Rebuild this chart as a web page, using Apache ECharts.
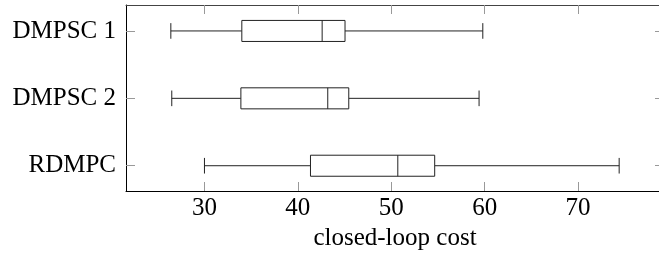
<!DOCTYPE html>
<html>
<head>
<meta charset="utf-8">
<script src="https://cdn.jsdelivr.net/npm/echarts@6/dist/echarts.min.js"></script>
<style>
  html, body { margin: 0; padding: 0; background: #fff; overflow: hidden; }
  #chart { width: 672px; height: 257px; }
</style>
</head>
<body>
<div id="chart"></div>
<script>
// box plot data, one entry per method (top to bottom)
const categories = ['DMPSC 1', 'DMPSC 2', 'RDMPC'];
const lowWhisker = [26.4, 26.5, 30.0];
const lowerQuartile = [34.0, 33.9, 41.35];
const median = [42.6, 43.2, 50.7];
const upperQuartile = [45.05, 45.45, 54.65];
const highWhisker = [59.8, 59.4, 74.4];
const xTicks = [30, 40, 50, 60, 70];
const yTicks = [1, 2, 3];

const font = "'Liberation Serif'";
const fontSize = 25;
const boxHalf = 0.156;
const capHalf = 0.116;

const rows = categories.map((c, i) => [i + 1, lowWhisker[i], lowerQuartile[i], median[i], upperQuartile[i], highWhisker[i]]);

function renderBox(params, api) {
  const y = api.value(0);
  const lo = api.coord([api.value(1), y]);
  const q1 = api.coord([api.value(2), y]);
  const md = api.coord([api.value(3), y]);
  const q3 = api.coord([api.value(4), y]);
  const hi = api.coord([api.value(5), y]);
  const bh = api.size([0, boxHalf])[1];
  const ch = api.size([0, capHalf])[1];
  const cy = lo[1];
  const st = { stroke: '#222', lineWidth: 1, fill: null };
  return {
    type: 'group',
    children: [
      { type: 'line', shape: { x1: lo[0], y1: cy, x2: q1[0], y2: cy }, style: st },
      { type: 'line', shape: { x1: q3[0], y1: cy, x2: hi[0], y2: cy }, style: st },
      { type: 'line', shape: { x1: lo[0], y1: cy - ch, x2: lo[0], y2: cy + ch }, style: st },
      { type: 'line', shape: { x1: hi[0], y1: cy - ch, x2: hi[0], y2: cy + ch }, style: st },
      { type: 'rect', shape: { x: q1[0], y: cy - bh, width: q3[0] - q1[0], height: 2 * bh },
        style: { stroke: '#222', lineWidth: 1, fill: '#fff' } },
      { type: 'line', shape: { x1: md[0], y1: cy - bh, x2: md[0], y2: cy + bh }, style: st }
    ]
  };
}

const chart = echarts.init(document.getElementById('chart'));

const tickStyle = { show: true, inside: true, length: 9, lineStyle: { color: '#999', width: 1 } };

chart.setOption({
  animation: false,
  grid: { left: 126, top: 5, width: 538, height: 186 },
  xAxis: [
    {
      type: 'value', min: 21.6, max: 79.2, position: 'bottom',
      name: 'closed-loop cost', nameLocation: 'middle', nameGap: 35,
      nameTextStyle: { fontFamily: font, fontSize: fontSize, color: '#000' },
      axisLine: { show: true, lineStyle: { color: '#000', width: 1 } },
      axisTick: Object.assign({ customValues: xTicks }, tickStyle),
      axisLabel: { customValues: xTicks, margin: 5, fontFamily: font, fontSize: fontSize, color: '#000' },
      splitLine: { show: false }
    },
    {
      type: 'value', min: 21.6, max: 79.2, position: 'top',
      axisLine: { show: true, lineStyle: { color: '#444', width: 1 } },
      axisTick: Object.assign({ customValues: xTicks }, tickStyle),
      axisLabel: { show: false },
      splitLine: { show: false }
    }
  ],
  yAxis: [
    {
      type: 'value', min: 0.615, max: 3.375, inverse: true, position: 'left',
      axisLine: { show: true, lineStyle: { color: '#000', width: 1 } },
      axisTick: Object.assign({ customValues: yTicks }, tickStyle),
      axisLabel: {
        customValues: yTicks, margin: 10, fontFamily: font, fontSize: fontSize, color: '#000',
        formatter: v => categories[Math.round(v) - 1] || ''
      },
      splitLine: { show: false }
    },
    {
      type: 'value', min: 0.615, max: 3.375, inverse: true, position: 'right',
      axisLine: { show: false },
      axisTick: Object.assign({ customValues: yTicks }, tickStyle),
      axisLabel: { show: false },
      splitLine: { show: false }
    }
  ],
  series: [
    {
      type: 'custom',
      xAxisIndex: 0,
      yAxisIndex: 0,
      renderItem: renderBox,
      encode: { x: [1, 2, 3, 4, 5], y: 0 },
      data: rows
    }
  ]
});
</script>
</body>
</html>
